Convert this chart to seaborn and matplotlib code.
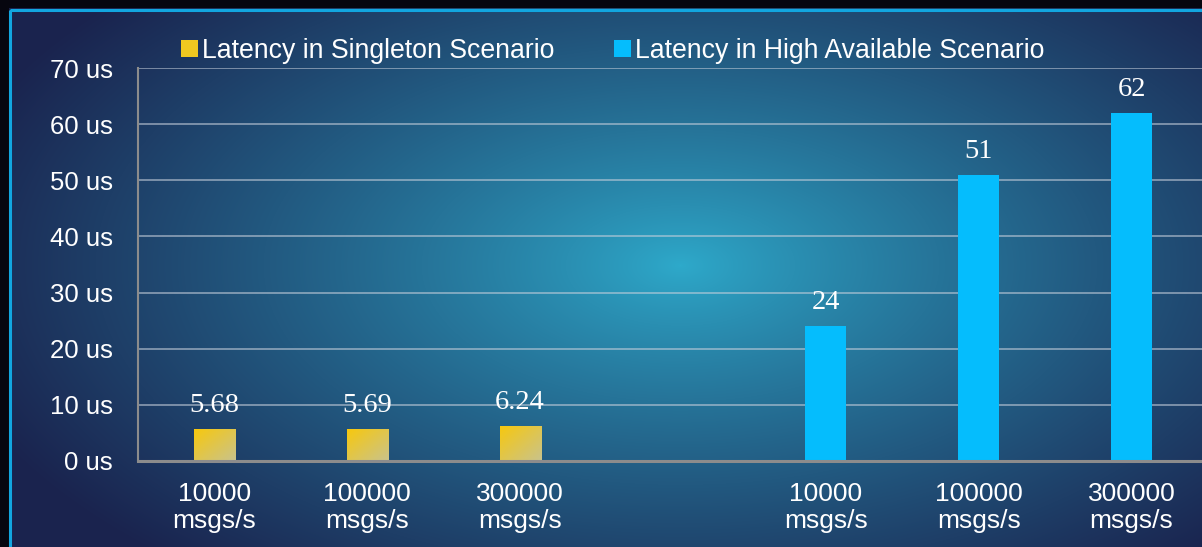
import numpy as np
import pandas as pd
import matplotlib
matplotlib.use("Agg")
import matplotlib.pyplot as plt
from matplotlib.patches import Rectangle
import matplotlib.colors as mcolors
import seaborn as sns

# ---- data ----
rates = ["10000", "100000", "300000"]
singleton = [5.68, 5.69, 6.24]
high_avail = [24, 51, 62]
singleton_labels = ["5.68", "5.69", "6.24"]
high_avail_labels = ["24", "51", "62"]
series = ["Latency in Singleton Scenario", "Latency in High Available Scenario"]
yticks = [0, 10, 20, 30, 40, 50, 60, 70]
ytick_labels = [f"{v} us" for v in yticks]

YELLOW = "#f0c820"
CYAN = "#05bdfd"

rows = []
for r, v in zip(rates, singleton):
    rows.append({"key": f"S|{r}", "series": series[0], "value": v})
for r, v in zip(rates, high_avail):
    rows.append({"key": f"H|{r}", "series": series[1], "value": v})
df = pd.DataFrame(rows)
order = [f"S|{r}" for r in rates] + ["gap"] + [f"H|{r}" for r in rates]
xlabels = [f"{r}\nmsgs/s" for r in rates] + [""] + [f"{r}\nmsgs/s" for r in rates]

sns.set_theme(style="white")
plt.rcParams["font.family"] = ["Liberation Sans", "DejaVu Sans"]

W, H = 1202, 547
fig = plt.figure(figsize=(W / 100, H / 100), dpi=100)
fig.patch.set_facecolor("#06060f")

# ---- background (radial gradient + frame) ----
bg = fig.add_axes([0, 0, 1, 1], zorder=-10)
bg.set_axis_off()
yy, xx = np.mgrid[0:H, 0:W]
cx, cy = 680, 265
r = np.sqrt(((xx - cx) / 760.0) ** 2 + ((yy - cy) / 400.0) ** 2)
t = np.clip(r, 0, 1) ** 0.85
c0 = np.array(mcolors.to_rgb("#2eaacb"))
c1 = np.array(mcolors.to_rgb("#1a234e"))
img = c0[None, None, :] * (1 - t[..., None]) + c1[None, None, :] * t[..., None]
bg.imshow(img, extent=[0, W, H, 0], aspect="auto", interpolation="bilinear")
bg.set_xlim(0, W)
bg.set_ylim(H, 0)
bg.add_patch(Rectangle((0, 0), W, 8, color="#06060f", lw=0))
bg.add_patch(Rectangle((0, 0), 9, H, color="#06060f", lw=0))
bg.add_patch(Rectangle((10, 9.5), W + 20, H + 20, fill=False, ec="#12a6e0", lw=2.2))

# ---- main axes ----
ax = fig.add_axes([138 / W, (H - 461) / H, (1208 - 138) / W, (461 - 68) / H])
ax.set_facecolor("none")
sns.barplot(data=df, x="key", y="value", hue="series", order=order,
            hue_order=series, palette=[YELLOW, CYAN], dodge=False,
            width=0.27, ax=ax, saturation=1, edgecolor="none", linewidth=0)

ax.set_ylim(0, 70)
ax.set_yticks(yticks)
ax.set_yticklabels(ytick_labels)
ax.set_xticks(range(len(order)))
ax.set_xticklabels(xlabels, linespacing=1.16)
ax.set_xlim(-0.5, len(order) - 0.5)
ax.set_xlabel("")
ax.set_ylabel("")
ax.tick_params(axis="y", length=0, pad=18, labelsize=18.5, labelcolor="white")
ax.tick_params(axis="x", length=0, pad=15, labelsize=19, labelcolor="white")
ax.grid(axis="y", color="#c8d0dc", alpha=0.7, lw=1.1)
ax.set_axisbelow(True)
for s in ["top", "right"]:
    ax.spines[s].set_visible(False)
ax.spines["left"].set_color("#8c8c8c")
ax.spines["left"].set_linewidth(1.5)
ax.spines["bottom"].set_color("#8c8c8c")
ax.spines["bottom"].set_linewidth(2.2)

# yellow gradient fill
gy, gx = np.mgrid[0:50, 0:50] / 49.0
d = np.clip((gx + gy) / 2.0, 0, 1)
ya = np.array(mcolors.to_rgb("#f7c80e"))
yb = np.array(mcolors.to_rgb("#c9c38c"))
grad = ya[None, None, :] * (1 - d[..., None]) + yb[None, None, :] * d[..., None]
for p in ax.containers[0]:
    x0, y0 = p.get_x(), p.get_y()
    w, h = p.get_width(), p.get_height()
    im = ax.imshow(grad, extent=[x0, x0 + w, y0, y0 + h], aspect="auto",
                   origin="upper", zorder=p.get_zorder() + 0.1, interpolation="bilinear")
    im.set_clip_path(p)
ax.set_xlim(-0.5, len(order) - 0.5)
ax.set_ylim(0, 70)

ax.bar_label(ax.containers[0], labels=singleton_labels, padding=8,
             color="white", fontsize=20.5, family=["Liberation Serif"])
ax.bar_label(ax.containers[1], labels=high_avail_labels, padding=8,
             color="white", fontsize=20.5, family=["Liberation Serif"])

sns.move_legend(ax, "lower left", bbox_to_anchor=(181 / W, (H - 64) / H),
                bbox_transform=fig.transFigure, ncol=2, frameon=False, title=None,
                fontsize=19.2, handlelength=0.62, handleheight=0.62,
                handletextpad=0.15, columnspacing=2.25, borderpad=0, borderaxespad=0)
for txt in ax.get_legend().get_texts():
    txt.set_color("white")

fig.savefig("out.png", dpi=100, facecolor=fig.get_facecolor())
